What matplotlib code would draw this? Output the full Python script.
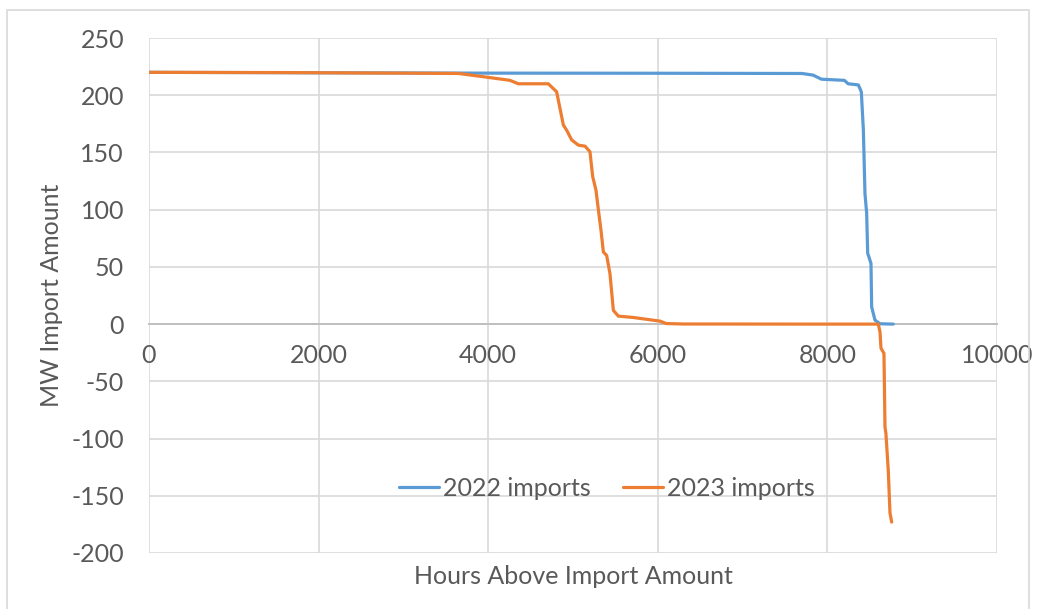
import matplotlib.pyplot as plt
from matplotlib.patches import Rectangle

plt.rcParams["font.family"] = ["Lato", "DejaVu Sans"]
plt.rcParams["axes.unicode_minus"] = False

# duration curves
hours_2022 = [0, 2000, 4000, 6000, 7700, 7830, 7930, 8200, 8245, 8365, 8400, 8424,
              8443, 8463, 8475, 8514, 8522, 8561, 8620, 8777]
mw_2022 = [220, 219.6, 219.3, 219.2, 219, 217.6, 214, 213, 210, 209, 203, 170,
           114, 97, 62, 53, 15, 3.5, 0.3, 0]

hours_2023 = [0, 1500, 3000, 3650, 4000, 4257, 4355, 4709, 4807, 4886, 4925, 4984,
              5063, 5142, 5200, 5232, 5271, 5299, 5330, 5358, 5397, 5436, 5476, 5534,
              5711, 6026, 6100, 6300, 8000, 8600, 8620, 8632, 8667, 8679, 8690, 8718,
              8738, 8758]
mw_2023 = [220, 219.8, 219.3, 219, 215.6, 213, 210, 210, 203, 174, 169.5, 161,
           156.4, 155.5, 150.6, 129, 117, 100, 82, 63, 60, 44, 12, 7,
           5.8, 2.6, 0.5, 0.1, 0, 0, -6.7, -21, -25.6, -90, -95.5, -128,
           -165, -173]

x_ticks = [0, 2000, 4000, 6000, 8000, 10000]
y_ticks = [-200, -150, -100, -50, 0, 50, 100, 150, 200, 250]

TEXT = "#595959"
GRID = "#d9d9d9"
FS = 18

fig = plt.figure(figsize=(10.4, 6.09), dpi=100)
fig.patches.append(Rectangle((7 / 1040, -0.01), 1022 / 1040, 1 - 10 / 609 + 0.01,
                             transform=fig.transFigure, fill=False,
                             edgecolor=GRID, linewidth=1.2))
ax = fig.add_axes([149 / 1040, 1 - 553 / 609, 848 / 1040, 515 / 609])

ax.plot(hours_2022, mw_2022, color="#5B9BD5", lw=2.3, solid_joinstyle="round",
        solid_capstyle="round", label="2022 imports", zorder=3)
ax.plot(hours_2023, mw_2023, color="#ED7D31", lw=2.3, solid_joinstyle="round",
        solid_capstyle="round", label="2023 imports", zorder=3)

ax.set_xlim(0, 10000)
ax.set_ylim(-200, 250)
ax.set_xticks(x_ticks)
ax.set_yticks(y_ticks)
ax.grid(True, color=GRID, linewidth=1.2)
ax.set_axisbelow(True)

for side in ["top", "right", "left"]:
    ax.spines[side].set_visible(False)
ax.spines["bottom"].set_position(("data", 0))
ax.spines["bottom"].set_color("#bfbfbf")
ax.spines["bottom"].set_linewidth(1.4)
ax.spines["bottom"].set_zorder(2)

ax.tick_params(axis="both", length=0, labelsize=FS, labelcolor=TEXT)
ax.tick_params(axis="x", pad=14)
ax.tick_params(axis="y", pad=18)

ax.set_ylabel("MW Import Amount", fontsize=FS, color=TEXT, labelpad=6)
fig.text(573 / 1040, 1 - 576 / 609, "Hours Above Import Amount", fontsize=FS,
         color=TEXT, ha="center", va="center")

ax.legend(loc="center", bbox_to_anchor=(607 / 1040, 1 - 488 / 609),
          bbox_transform=fig.transFigure, ncol=2, frameon=False, fontsize=FS,
          labelcolor=TEXT, handlelength=1.6, handletextpad=0.16, columnspacing=1.3)

fig.savefig("out.png", dpi=100)
